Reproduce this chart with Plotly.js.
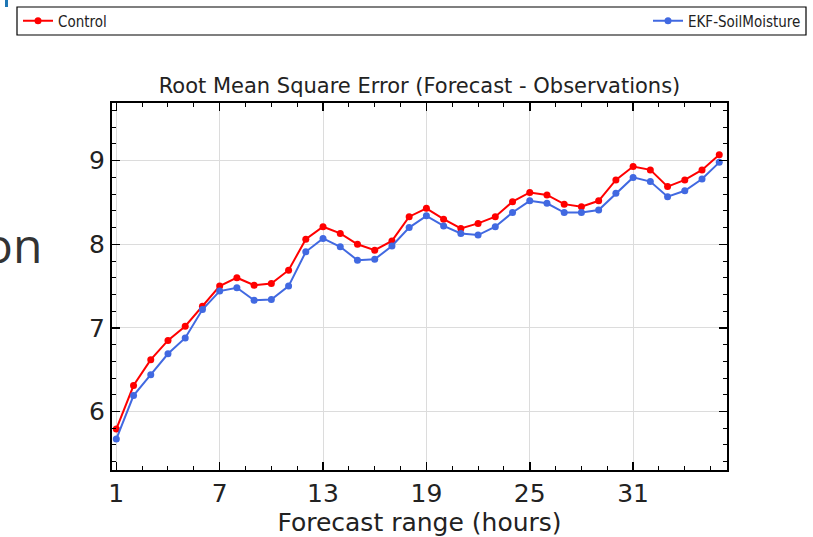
<!DOCTYPE html>
<html>
<head>
<meta charset="utf-8">
<script src="https://cdn.plot.ly/plotly-3.0.1.min.js"></script>
<style>html,body{margin:0;padding:0;background:#fff;overflow:hidden;}#chart{width:813px;height:537px;}</style>
</head>
<body>
<div id="chart"></div>
<script>
const forecastHours = [1,2,3,4,5,6,7,8,9,10,11,12,13,14,15,16,17,18,19,20,21,22,23,24,25,26,27,28,29,30,31,32,33,34,35,36];
const controlRMSE = [5.79,6.31,6.62,6.85,7.02,7.26,7.50,7.60,7.51,7.53,7.69,8.06,8.21,8.13,8.00,7.93,8.04,8.33,8.43,8.30,8.19,8.25,8.33,8.51,8.62,8.59,8.48,8.45,8.52,8.77,8.93,8.89,8.69,8.77,8.89,9.07];
const ekfRMSE = [5.67,6.19,6.44,6.69,6.88,7.22,7.44,7.48,7.33,7.34,7.50,7.91,8.07,7.97,7.81,7.82,7.98,8.20,8.34,8.22,8.13,8.11,8.21,8.38,8.52,8.49,8.38,8.38,8.41,8.61,8.80,8.75,8.57,8.64,8.78,8.98];
const seriesNames = ["Control", "EKF-SoilMoisture"];
const xTickVals = [1,7,13,19,25,31];
const yTickVals = [6,7,8,9];
const titleText = "Root Mean Square Error (Forecast - Observations)";
const xTitleText = "Forecast range (hours)";
const sideText = "on";

const W = 813, H = 537, L = 112, R = 86, T = 103, B = 67;
const pw = W - L - R, ph = H - T - B;
const px = v => (v - L) / pw;
const py = v => (H - B - v) / ph;

const traces = [
  {x: forecastHours, y: controlRMSE, name: seriesNames[0], type: 'scatter', mode: 'lines+markers',
   line: {color: '#ff0000', width: 2}, marker: {color: '#ff0000', size: 7}, legend: 'legend'},
  {x: forecastHours, y: ekfRMSE, name: seriesNames[1], type: 'scatter', mode: 'lines+markers',
   line: {color: '#4169e1', width: 2}, marker: {color: '#4169e1', size: 7}, legend: 'legend2'}
];

const axisCommon = {
  showline: true, linecolor: '#000', linewidth: 2, mirror: 'allticks',
  ticks: 'inside', ticklen: 8, tickwidth: 1.5, tickcolor: '#000',
  showgrid: true, gridcolor: '#dcdcdc', gridwidth: 1, zeroline: false,
  tickfont: {family: 'DejaVu Sans', size: 25, color: '#222'}
};

const legendFont = {family: 'Liberation Sans Narrow, DejaVu Sans Condensed, DejaVu Sans', size: 15, color: '#222'};

const layout = {
  width: W, height: H,
  margin: {l: L, r: R, t: T, b: B, autoexpand: false},
  paper_bgcolor: '#fff', plot_bgcolor: '#fff',
  title: {text: titleText, x: 0.5, xref: 'paper', xanchor: 'center', y: 1 - 86/H, yref: 'container', yanchor: 'middle',
          font: {family: 'DejaVu Sans', size: 21, color: '#222'}},
  xaxis: Object.assign({}, axisCommon, {
    range: [0.75, 36.45], tickmode: 'array', tickvals: xTickVals, ticktext: xTickVals.map(String),
    minor: {tick0: 1, dtick: 1.5, ticks: 'inside', ticklen: 4, tickcolor: '#000', tickwidth: 1, showgrid: false},
    title: {text: xTitleText, font: {family: 'DejaVu Sans', size: 25, color: '#222'}, standoff: 8},
    automargin: false
  }),
  yaxis: Object.assign({}, axisCommon, {
    range: [5.3, 9.69], tickmode: 'array', tickvals: yTickVals, ticktext: yTickVals.map(String),
    minor: {tick0: 5.4, dtick: 0.2, ticks: 'inside', ticklen: 4, tickcolor: '#000', tickwidth: 1, showgrid: false},
    automargin: false
  }),
  showlegend: true,
  legend: {x: px(18), xanchor: 'left', y: py(21), yanchor: 'middle', orientation: 'h',
           bgcolor: 'rgba(0,0,0,0)', borderwidth: 0, itemwidth: 30, font: legendFont},
  legend2: {x: px(806), xanchor: 'right', y: py(21), yanchor: 'middle', orientation: 'h',
           bgcolor: 'rgba(0,0,0,0)', borderwidth: 0, itemwidth: 30, font: legendFont},
  shapes: [
    {type: 'rect', xref: 'paper', yref: 'paper', x0: px(17), x1: px(806), y0: py(35), y1: py(7),
     line: {color: '#000', width: 1.2}, fillcolor: 'rgba(0,0,0,0)', layer: 'below'},
    {type: 'rect', xref: 'paper', yref: 'paper', x0: px(5), x1: px(8), y0: py(7), y1: py(0),
     line: {width: 0}, fillcolor: '#1f77b4'}
  ],
  annotations: [
    {text: sideText, xref: 'paper', yref: 'paper', x: px(43), xanchor: 'right', y: py(244), yanchor: 'middle',
     showarrow: false, borderpad: 0, font: {family: 'Liberation Sans Narrow, Open Sans', size: 48, color: '#333'}}
  ]
};

Plotly.newPlot('chart', traces, layout, {displayModeBar: false, staticPlot: true});
</script>
</body>
</html>
